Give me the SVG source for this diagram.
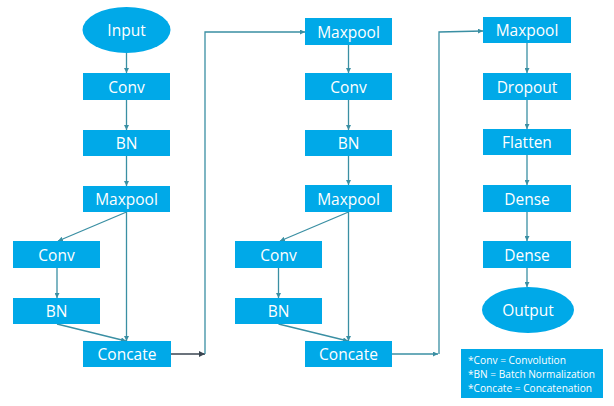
<svg xmlns="http://www.w3.org/2000/svg" width="614" height="406" viewBox="0 0 614 406">
<style>
.box{fill:#00A9E8;}
.lbl{font-family:"Open Sans","Noto Sans",sans-serif;font-size:15.5px;fill:#fff;text-anchor:middle;dominant-baseline:central;}
.leg{font-family:"Open Sans","Noto Sans",sans-serif;font-size:10.5px;fill:#fff;}
.ln{fill:none;stroke:#3A8FA3;stroke-width:1.3;marker-end:url(#ah);}
.dk{fill:none;stroke:#3a4550;stroke-width:1.3;marker-end:url(#ahd);}
</style>
<defs>
<marker id="ah" viewBox="0 0 10 10" refX="10" refY="5" markerWidth="5" markerHeight="5" orient="auto" markerUnits="userSpaceOnUse"><path d="M0,0 L10,5 L0,10 z" fill="#3A8FA3"/></marker>
<marker id="ahd" viewBox="0 0 10 10" refX="10" refY="5" markerWidth="6" markerHeight="6" orient="auto" markerUnits="userSpaceOnUse"><path d="M0,0 L10,5 L0,10 z" fill="#3a4550"/></marker>
</defs>
<rect width="614" height="406" fill="#fff"/>
<g id="connectors">
<line class="ln" x1="126.5" y1="53" x2="126.5" y2="73"/>
<line class="ln" x1="126.5" y1="100" x2="126.5" y2="130"/>
<line class="ln" x1="126.5" y1="156" x2="126.5" y2="186"/>
<line class="ln" x1="126.5" y1="212" x2="58" y2="241"/>
<line class="ln" x1="126.5" y1="212" x2="126.5" y2="341"/>
<line class="ln" x1="57" y1="268" x2="57" y2="298"/>
<line class="ln" x1="57" y1="324" x2="126" y2="341"/>
<line class="dk" x1="171" y1="354" x2="205" y2="354"/>
<polyline class="ln" points="205,354 205,32 305,32"/>
<line class="ln" x1="348.5" y1="45" x2="348.5" y2="73"/>
<line class="ln" x1="348.5" y1="100" x2="348.5" y2="130"/>
<line class="ln" x1="348.5" y1="156" x2="348.5" y2="185"/>
<line class="ln" x1="348.5" y1="212" x2="280" y2="241"/>
<line class="ln" x1="348.5" y1="212" x2="348.5" y2="341"/>
<line class="ln" x1="278.5" y1="268" x2="278.5" y2="298"/>
<line class="ln" x1="278.5" y1="324" x2="348" y2="341"/>
<line class="ln" x1="392" y1="354" x2="438" y2="354"/>
<polyline class="ln" points="439,354 439,32 483,31"/>
<line class="ln" x1="527" y1="43" x2="527" y2="73"/>
<line class="ln" x1="527" y1="100" x2="527" y2="129"/>
<line class="ln" x1="527" y1="155" x2="527" y2="185"/>
<line class="ln" x1="527" y1="212" x2="527" y2="241"/>
<line class="ln" x1="527" y1="268" x2="527" y2="287"/>
</g>
<g id="input"><ellipse class="box" cx="126.5" cy="30" rx="44" ry="23"/><text class="lbl" x="126.5" y="30">Input</text></g>
<g id="conv1"><rect class="box" x="83" y="73" width="87" height="27"/><text class="lbl" x="126.5" y="86.5">Conv</text></g>
<g id="bn1"><rect class="box" x="83" y="130" width="87" height="26"/><text class="lbl" x="126.5" y="143">BN</text></g>
<g id="maxpool1"><rect class="box" x="83" y="186" width="87" height="26"/><text class="lbl" x="126.5" y="199">Maxpool</text></g>
<g id="conv1b"><rect class="box" x="13" y="241" width="87" height="27"/><text class="lbl" x="56.5" y="254.5">Conv</text></g>
<g id="bn1b"><rect class="box" x="13" y="298" width="87" height="26"/><text class="lbl" x="56.5" y="311">BN</text></g>
<g id="concate1"><rect class="box" x="83" y="341" width="88" height="26"/><text class="lbl" x="127" y="354">Concate</text></g>
<g id="maxpool2"><rect class="box" x="305" y="18" width="87" height="27"/><text class="lbl" x="348.5" y="31.5">Maxpool</text></g>
<g id="conv2"><rect class="box" x="305" y="73" width="87" height="27"/><text class="lbl" x="348.5" y="86.5">Conv</text></g>
<g id="bn2"><rect class="box" x="305" y="130" width="87" height="26"/><text class="lbl" x="348.5" y="143">BN</text></g>
<g id="maxpool3"><rect class="box" x="305" y="185" width="87" height="27"/><text class="lbl" x="348.5" y="198.5">Maxpool</text></g>
<g id="conv2b"><rect class="box" x="235" y="241" width="87" height="27"/><text class="lbl" x="278.5" y="254.5">Conv</text></g>
<g id="bn2b"><rect class="box" x="235" y="298" width="87" height="26"/><text class="lbl" x="278.5" y="311">BN</text></g>
<g id="concate2"><rect class="box" x="305" y="341" width="87" height="26"/><text class="lbl" x="348.5" y="354">Concate</text></g>
<g id="maxpool4"><rect class="box" x="483" y="17" width="88" height="26"/><text class="lbl" x="527" y="30">Maxpool</text></g>
<g id="dropout"><rect class="box" x="483" y="73" width="88" height="27"/><text class="lbl" x="527" y="86.5">Dropout</text></g>
<g id="flatten"><rect class="box" x="483" y="129" width="88" height="26"/><text class="lbl" x="527" y="142">Flatten</text></g>
<g id="dense1"><rect class="box" x="483" y="185" width="88" height="27"/><text class="lbl" x="527" y="198.5">Dense</text></g>
<g id="dense2"><rect class="box" x="483" y="241" width="88" height="27"/><text class="lbl" x="527" y="254.5">Dense</text></g>
<g id="output"><ellipse class="box" cx="528" cy="310" rx="46" ry="23"/><text class="lbl" x="528" y="310">Output</text></g>
<g id="legend"><rect class="box" x="461" y="349" width="142" height="49"/>
<text class="leg" x="468" y="364" textLength="98" lengthAdjust="spacingAndGlyphs">*Conv = Convolution</text>
<text class="leg" x="468" y="378" textLength="127" lengthAdjust="spacingAndGlyphs">*BN = Batch Normalization</text>
<text class="leg" x="468" y="392" textLength="124" lengthAdjust="spacingAndGlyphs">*Concate = Concatenation</text>
</g>
</svg>
